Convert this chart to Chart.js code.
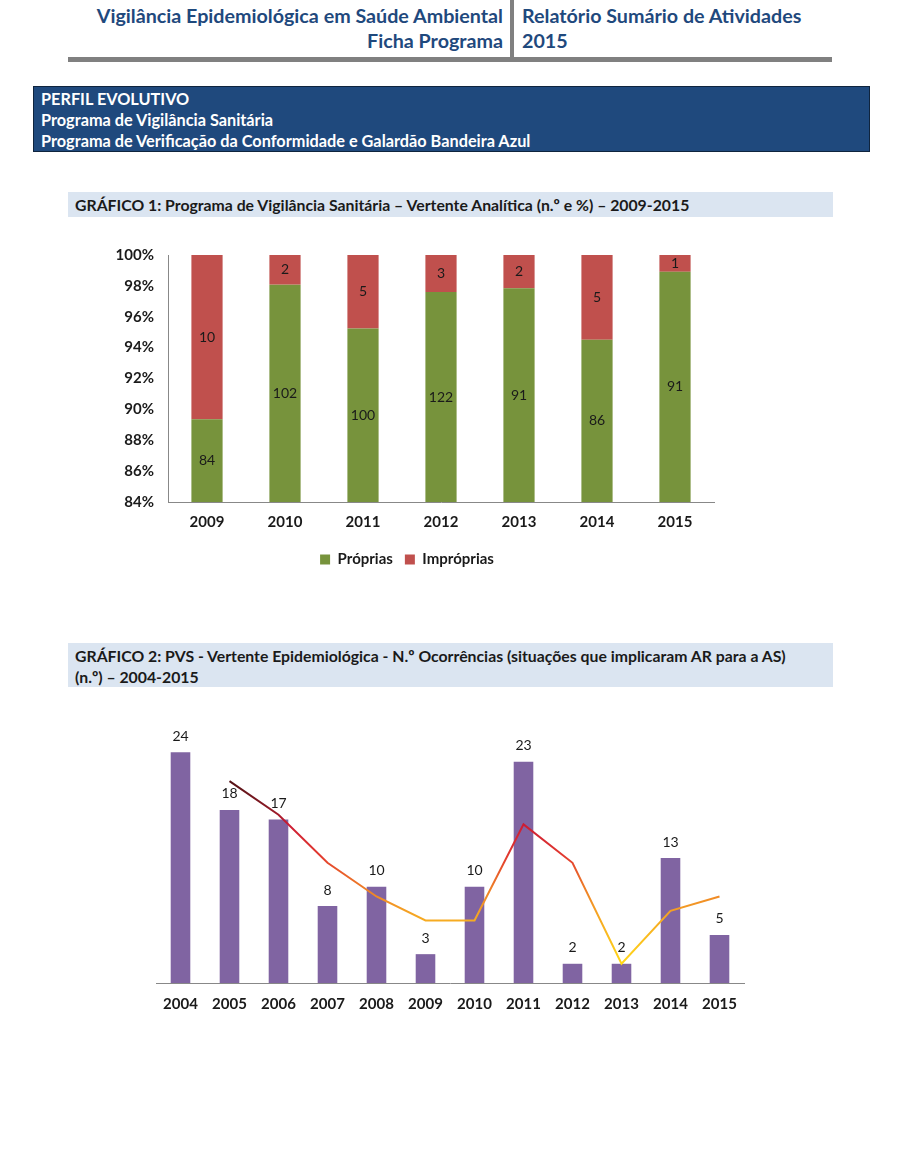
<!DOCTYPE html>
<html lang="pt">
<head>
<meta charset="utf-8">
<script src="https://cdn.jsdelivr.net/npm/chart.js@4.4.0/dist/chart.umd.min.js"></script>
<style>
  body { margin: 0; width: 899px; height: 1155px; background: #fff; position: relative; overflow: hidden;
         font-family: Lato, "Open Sans", sans-serif; }
  .hdr { position: absolute; top: 3px; font-weight: bold; font-size: 19.7px; color: #1f497d; line-height: 25px; }
  .hdr-left { right: 396px; text-align: right; }
  .hdr-right { left: 522px; }
  .vline { position: absolute; left: 510px; top: 0; width: 4px; height: 58px; background: #808080; }
  .hline { position: absolute; left: 68px; top: 57px; width: 764px; height: 5px; background: #808080; }
  .box { position: absolute; left: 33px; top: 86px; width: 837px; height: 66px; background: #1f497d;
         border: 1px solid #0f243e; color: #fff; font-weight: bold; font-size: 16.3px; line-height: 21px;
         padding: 1px 0 0 7px; box-sizing: border-box; }
  .ttl { position: absolute; left: 68px; width: 765px; background: #dbe5f1; font-weight: bold; font-size: 15.8px;
         color: #1a1a1a; padding: 2px 0 2px 7px; line-height: 21px; box-sizing: border-box; white-space: nowrap; }
  canvas { position: absolute; }
</style>
</head>
<body>
<div class="hdr hdr-left">Vigilância Epidemiológica em Saúde Ambiental<br>Ficha Programa</div>
<div class="vline"></div>
<div class="hdr hdr-right">Relatório Sumário de Atividades<br>2015</div>
<div class="hline"></div>

<div class="box">PERFIL EVOLUTIVO<br>Programa de Vigilância Sanitária<br>Programa de Verificação da Conformidade e Galardão Bandeira Azul</div>

<div class="ttl" style="top:192px;height:25px;">GRÁFICO 1: Programa de Vigilância Sanitária – Vertente Analítica (n.º e %) – 2009-2015</div>
<canvas id="chart1" width="650" height="345" style="left:100px;top:232px;"></canvas>

<div class="ttl" style="top:643px;height:44px;">GRÁFICO 2: PVS - Vertente Epidemiológica - N.º Ocorrências (situações que implicaram AR para a AS)<br>(n.º) – 2004-2015</div>
<canvas id="chart2" width="660" height="308" style="left:120px;top:715px;"></canvas>

<script>
// Gráfico 1 - contagens por ano
const years1 = ['2009', '2010', '2011', '2012', '2013', '2014', '2015'];
const proprias = [84, 102, 100, 122, 91, 86, 91];
const improprias = [10, 2, 5, 3, 2, 5, 1];
const pctTicks = [0.84, 0.86, 0.88, 0.90, 0.92, 0.94, 0.96, 0.98, 1.00];

// Gráfico 2 - ocorrências
const years2 = ['2004', '2005', '2006', '2007', '2008', '2009', '2010', '2011', '2012', '2013', '2014', '2015'];
const ocorrencias = [24, 18, 17, 8, 10, 3, 10, 23, 2, 2, 13, 5];
const tendencia = [null, 21, 17.5, 12.5, 9, 6.5, 6.5, 16.5, 12.5, 2, 7.5, 9];

const FONT = 'Lato, "Open Sans", sans-serif';
const GREEN = '#77933c';
const RED = '#c0504d';
const PURPLE = '#8064a2';

// share of each year's total (stacked 100%)
const totals = proprias.map((p, i) => p + improprias[i]);
const propriasPct = proprias.map((p, i) => p / totals[i]);
const impropriasPct = improprias.map((v, i) => v / totals[i]);

// draws the counts in the middle of the visible part of each segment
const segmentLabels = {
    id: 'segmentLabels',
    afterDatasetsDraw(chart) {
        const ctx = chart.ctx;
        const area = chart.chartArea;
        ctx.save();
        ctx.font = '14px ' + FONT;
        ctx.fillStyle = '#1a1a1a';
        ctx.textAlign = 'center';
        ctx.textBaseline = 'middle';
        chart.data.datasets.forEach((ds, di) => {
            chart.getDatasetMeta(di).data.forEach((bar, i) => {
                const top = Math.max(Math.min(bar.y, bar.base), area.top);
                const bottom = Math.min(Math.max(bar.y, bar.base), area.bottom);
                if (bottom <= top) return;
                ctx.fillText(ds.counts[i], bar.x, (top + bottom) / 2);
            });
        });
        ctx.restore();
    }
};

new Chart(document.getElementById('chart1'), {
    type: 'bar',
    data: {
        labels: years1,
        datasets: [
            { label: 'Próprias', data: propriasPct, counts: proprias, backgroundColor: GREEN },
            { label: 'Impróprias', data: impropriasPct, counts: improprias, backgroundColor: RED }
        ]
    },
    options: {
        responsive: false,
        animation: false,
        layout: { padding: { top: 8, right: 36, left: 0, bottom: 0 } },
        datasets: { bar: { barPercentage: 0.8, categoryPercentage: 0.5 } },
        plugins: {
            legend: {
                position: 'bottom',
                labels: { boxWidth: 10, boxHeight: 10, padding: 12, color: '#1a1a1a',
                          font: { family: FONT, size: 15, weight: 'bold' } }
            },
            tooltip: { enabled: false }
        },
        scales: {
            x: {
                stacked: true,
                grid: { display: false, drawTicks: false },
                border: { display: true, color: '#888888' },
                ticks: { color: '#1a1a1a', padding: 11, font: { family: FONT, size: 15, weight: 'bold' } },
                afterFit(scale) { scale.height = 38; }
            },
            y: {
                stacked: true,
                min: 0.84,
                max: 1.0,
                grid: { display: false, drawTicks: false },
                border: { display: true, color: '#888888' },
                afterBuildTicks(scale) { scale.ticks = pctTicks.map(v => ({ value: v })); },
                ticks: {
                    color: '#1a1a1a',
                    padding: 14,
                    font: { family: FONT, size: 15, weight: 'bold' },
                    callback: v => Math.round(v * 100) + '%'
                },
                afterFit(scale) { scale.width = 68; }
            }
        }
    },
    plugins: [segmentLabels]
});

// numbers above the bars
const barValues = {
    id: 'barValues',
    afterDatasetsDraw(chart) {
        const ctx = chart.ctx;
        const meta = chart.getDatasetMeta(1);
        ctx.save();
        ctx.font = '14px ' + FONT;
        ctx.fillStyle = '#1a1a1a';
        ctx.textAlign = 'center';
        ctx.textBaseline = 'middle';
        meta.data.forEach((bar, i) => {
            ctx.fillText(ocorrencias[i], bar.x, bar.y - 16);
        });
        ctx.restore();
    }
};

// yellow at the bottom, through orange and red, to dark red at the top
function trendColor(context) {
    const chart = context.chart;
    const y = chart.scales.y;
    if (!chart.chartArea || !y) return '#e8542a';
    const g = chart.ctx.createLinearGradient(0, y.getPixelForValue(0), 0, y.getPixelForValue(22));
    g.addColorStop(0.0, '#ffe600');
    g.addColorStop(0.12, '#ffd21a');
    g.addColorStop(0.32, '#f5a623');
    g.addColorStop(0.45, '#ee7d27');
    g.addColorStop(0.6, '#e23a2f');
    g.addColorStop(0.75, '#cc1c34');
    g.addColorStop(0.82, '#8e1a26');
    g.addColorStop(1.0, '#3d0f0f');
    return g;
}

new Chart(document.getElementById('chart2'), {
    type: 'bar',
    data: {
        labels: years2,
        datasets: [
            {
                type: 'line',
                label: 'Tendência',
                data: tendencia,
                borderColor: trendColor,
                borderWidth: 2,
                pointRadius: 0,
                tension: 0,
                fill: false,
                order: 0
            },
            {
                label: 'Ocorrências',
                data: ocorrencias,
                backgroundColor: PURPLE,
                barPercentage: 0.8,
                categoryPercentage: 0.5,
                order: 1
            }
        ]
    },
    options: {
        responsive: false,
        animation: false,
        layout: { padding: { top: 18, right: 36, left: 36, bottom: 0 } },
        plugins: { legend: { display: false }, tooltip: { enabled: false } },
        scales: {
            x: {
                grid: { display: false, drawTicks: false },
                border: { display: true, color: '#888888' },
                ticks: { color: '#1a1a1a', padding: 12, font: { family: FONT, size: 15, weight: 'bold' } },
                afterFit(scale) { scale.height = 40; }
            },
            y: {
                display: false,
                min: 0,
                max: 26
            }
        }
    },
    plugins: [barValues]
});
</script>
</body>
</html>
